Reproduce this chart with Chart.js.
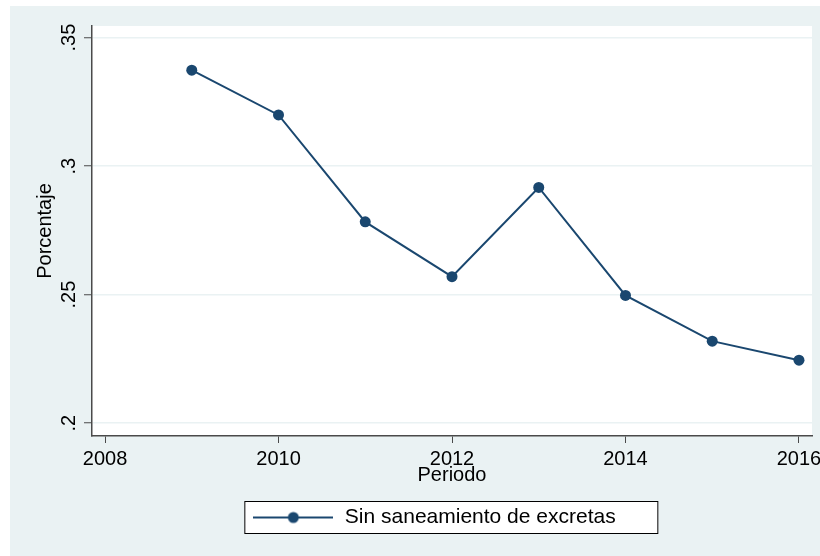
<!DOCTYPE html>
<html>
<head>
<meta charset="utf-8">
<script src="https://cdn.jsdelivr.net/npm/chart.js@4/dist/chart.umd.min.js"></script>
<style>
  html, body { margin: 0; padding: 0; background: #ffffff; }
  #wrap { position: absolute; left: 0; top: 0; width: 820px; height: 556px; }
</style>
</head>
<body>
<div id="wrap"><canvas id="c" width="820" height="556"></canvas></div>
<script>
// ---- data ----
const periods = [2009, 2010, 2011, 2012, 2013, 2014, 2015, 2016];
const sinSaneamiento = [0.3373, 0.3199, 0.2783, 0.2570, 0.2917, 0.2497, 0.2319, 0.2245];
const xTicks = [2008, 2010, 2012, 2014, 2016];
const yTicks = [0.2, 0.25, 0.3, 0.35];
const seriesLabel = 'Sin saneamiento de excretas';
const xTitle = 'Periodo';
const yTitle = 'Porcentaje';

const NAVY = '#1A476F';
const BG = '#EAF2F3';
const AXIS = '#4a4a4a';
const FONT = 'Arial, "Liberation Sans", Helvetica, sans-serif';

// legend symbol: line with a marker in the middle
const sym = document.createElement('canvas');
sym.width = 80; sym.height = 14;
(function () {
  const g = sym.getContext('2d');
  g.strokeStyle = NAVY; g.lineWidth = 2;
  g.beginPath(); g.moveTo(0, 7); g.lineTo(80, 7); g.stroke();
  g.fillStyle = NAVY;
  g.beginPath(); g.arc(40, 7, 5.5, 0, Math.PI * 2); g.fill();
})();

const bgPlugin = {
  id: 'stataBg',
  beforeDraw(chart) {
    const ctx = chart.ctx, a = chart.chartArea;
    ctx.save();
    ctx.fillStyle = '#ffffff';
    ctx.fillRect(0, 0, chart.width, chart.height);
    ctx.fillStyle = BG;
    ctx.fillRect(10, 6, chart.width - 10, chart.height - 6);
    ctx.fillStyle = '#ffffff';
    ctx.fillRect(a.left, a.top, a.right - a.left, a.bottom - a.top);
    // legend frame
    const lg = chart.legend;
    if (lg && lg.legendHitBoxes && lg.legendHitBoxes.length) {
      const h = lg.legendHitBoxes[0];
      const left = h.left - 8, right = h.left + 406;
      const top = lg.top + 4, bottom = lg.bottom - 4;
      ctx.fillStyle = '#ffffff';
      ctx.fillRect(left, top, right - left, bottom - top);
      ctx.strokeStyle = '#000000';
      ctx.lineWidth = 1;
      ctx.strokeRect(left + 0.5, top + 0.5, right - left - 1, bottom - top - 1);
    }
    ctx.restore();
  }
};

new Chart(document.getElementById('c'), {
  type: 'line',
  data: {
    datasets: [{
      label: seriesLabel,
      data: periods.map((p, i) => ({ x: p, y: sinSaneamiento[i] })),
      borderColor: NAVY,
      backgroundColor: NAVY,
      borderWidth: 2,
      pointRadius: 5.5,
      pointHoverRadius: 5.5,
      pointBackgroundColor: NAVY,
      pointBorderWidth: 0,
      tension: 0,
      fill: false
    }]
  },
  plugins: [bgPlugin],
  options: {
    responsive: false,
    animation: false,
    devicePixelRatio: 1,
    layout: { padding: { left: 56, top: 26, right: 8, bottom: 18 } },
    plugins: {
      tooltip: { enabled: false },
      legend: {
        position: 'bottom',
        align: 'center',
        labels: {
          usePointStyle: true,
          pointStyle: sym,
          pointStyleWidth: 82,
          padding: 10,
          color: '#000000',
          font: { family: FONT, size: 21 }
        }
      }
    },
    scales: {
      x: {
        type: 'linear',
        min: 2007.85,
        max: 2016.15,
        afterBuildTicks(scale) { scale.ticks = xTicks.map(v => ({ value: v })); },
        afterFit(scale) {
          scale.height = 61;
          scale.paddingLeft = 0;
          scale.paddingRight = 0;
        },
        ticks: {
          autoSkip: false,
          maxRotation: 0,
          minRotation: 0,
          padding: 4,
          color: '#000000',
          font: { family: FONT, size: 20 },
          callback: v => String(v)
        },
        grid: {
          drawOnChartArea: false,
          drawTicks: true,
          tickLength: 7,
          tickColor: AXIS,
          tickWidth: 1
        },
        border: { display: true, color: AXIS, width: 1.5 },
        title: {
          display: true,
          text: xTitle,
          color: '#000000',
          font: { family: FONT, size: 20, lineHeight: 1.2 },
          padding: { top: 0, bottom: 10 }
        }
      },
      y: {
        type: 'linear',
        min: 0.195,
        max: 0.3545,
        afterBuildTicks(scale) { scale.ticks = yTicks.map(v => ({ value: v })); },
        afterFit(scale) {
          scale.width = 36;
          scale.paddingTop = 0;
          scale.paddingBottom = 0;
        },
        ticks: {
          autoSkip: false,
          minRotation: 90,
          maxRotation: 90,
          crossAlign: 'center',
          padding: 1,
          color: '#000000',
          font: { family: FONT, size: 20 },
          callback: v => {
            const s = String(Math.round(v * 100) / 100);
            return s.replace(/^0\./, '.');
          }
        },
        grid: {
          drawOnChartArea: true,
          color: BG,
          lineWidth: 1.5,
          drawTicks: true,
          tickLength: 8,
          tickColor: AXIS,
          tickWidth: 1
        },
        border: { display: true, color: AXIS, width: 1.5 },
        title: {
          display: true,
          text: yTitle,
          color: '#000000',
          font: { family: FONT, size: 20, lineHeight: 1.2 },
          padding: { top: -23, bottom: 0 }
        }
      }
    }
  }
});
</script>
</body>
</html>
